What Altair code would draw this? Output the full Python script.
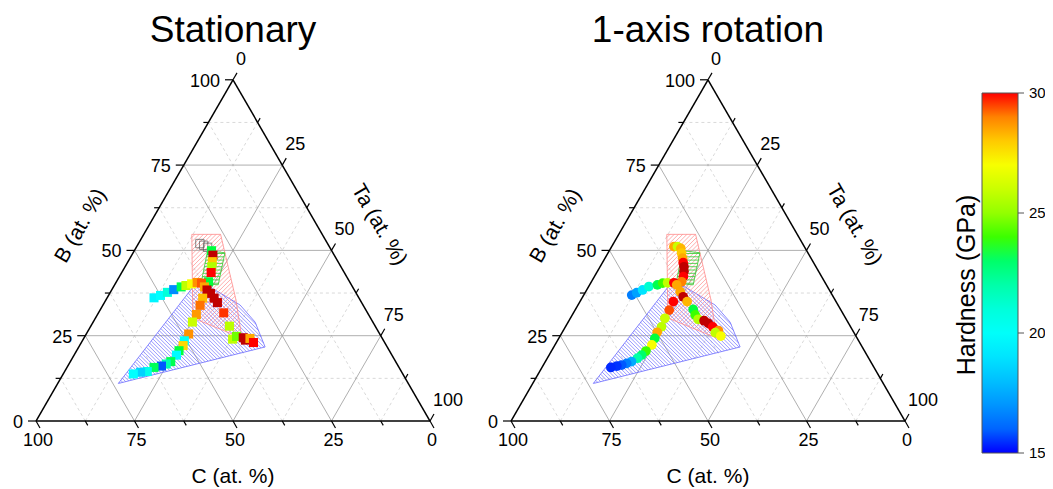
import math
import pandas as pd
import altair as alt

# ---------------- data (at.% compositions) ----------------
# Stationary sample (squares)
st_B = [49.9, 48.6, 46.7, 45.2, 43.5, 40.8,
        36.1, 36.8, 37.7, 38.5, 39.3, 39.7, 40.2, 40.6, 40.4, 39.3,
        38.4, 37.4, 36.0, 34.7, 31.7, 27.8, 24.0, 24.8, 24.4, 23.7, 24.2, 23.0,
        36.0, 33.9, 31.2, 29.0, 25.5, 23.5, 22.1, 20.6, 19.3, 17.4, 16.7, 16.1, 15.7, 14.5, 14.3, 13.8]
st_Ta = [19.6, 20.6, 21.4, 22.0, 22.7, 23.4,
         11.9, 13.2, 14.5, 15.7, 17.2, 18.2, 19.4, 20.6, 21.8, 23.1,
         24.2, 25.6, 27.2, 28.7, 31.8, 35.2, 37.9, 38.5, 40.4, 41.3, 42.2, 43.7,
         24.3, 24.7, 25.1, 25.2, 26.0, 25.9, 26.3, 26.0, 26.0, 25.5, 24.7, 23.8, 22.1, 21.0, 19.4, 17.8]
st_H = [23.5, 31.5, 28.0, 25.5, 30.0, 23.5,
        19.5, 19.8, 21.0, 16.8, 23.3, 25.8, 27.0, 28.8, 29.5, 28.5,
        31.5, 31.5, 31.5, 31.5, 29.8, 25.7, 25.8, 24.5, 31.5, 31.5, 28.5, 30.0,
        28.2, 29.2, 28.7, 26.0, 28.8, 20.0, 27.8, 23.5, 19.7, 23.3, 21.8, 15.8, 23.2, 20.5, 18.5, 19.8]
# Stationary points without hardness value (open squares)
st_open_B = [52.0, 51.5, 50.9]
st_open_Ta = [15.6, 16.8, 18.1]

# 1-axis rotation sample (circles)
rot_B = [51.1, 51.1, 50.6, 49.2, 47.7, 46.4, 45.2, 43.8, 42.3, 40.8,
         36.9, 37.6, 38.4, 39.4, 39.9, 40.4, 40.5, 40.5, 39.9,
         37.9, 36.4, 35.0, 32.7, 31.1, 29.8, 29.4, 28.6, 27.6, 26.5, 25.9, 24.9,
         35.0, 32.5, 30.1, 27.6, 26.0, 24.2, 22.3, 20.5, 19.3, 18.4, 17.4, 16.9, 16.4, 16.1, 15.7]
rot_Ta = [15.8, 16.7, 17.8, 18.7, 19.7, 20.5, 21.3, 22.0, 22.6, 22.9,
          12.2, 13.1, 14.2, 15.3, 17.2, 18.3, 19.5, 21.1, 22.1,
          24.0, 25.5, 27.2, 29.9, 31.2, 32.6, 34.3, 35.8, 37.4, 39.4, 38.9, 40.8,
          23.7, 23.9, 24.0, 24.4, 24.1, 24.4, 24.6, 24.0, 23.5, 22.9, 21.9, 20.9, 19.9, 18.8, 17.5]
rot_H = [28.5, 26.0, 28.3, 28.0, 28.5, 30.0, 31.5, 31.5, 30.0, 29.0,
         16.5, 17.3, 19.0, 21.2, 23.3, 24.0, 25.8, 30.0, 28.5,
         28.5, 31.5, 28.3, 23.5, 24.0, 25.5, 31.5, 31.5, 30.0, 28.8, 25.8, 27.0,
         30.0, 29.6, 26.0, 25.7, 28.5, 23.5, 27.0, 24.0, 23.0, 22.0, 17.5, 16.5, 15.8, 15.3, 15.2]

# shaded composition regions (vertices, B and Ta at.%)
red_B = [54.7, 54.7, 35.5, 24.3, 30.2]
red_Ta = [12.2, 19.5, 33.0, 40.1, 24.7]
green_B = [49.9, 49.3, 39.9, 40.4]
green_Ta = [18.6, 23.3, 26.3, 21.7]
blue_B = [11.0, 40.4, 39.3, 34.0, 29.0, 21.7]
blue_Ta = [15.4, 20.4, 24.5, 34.8, 41.1, 47.3]

panel_titles = ["Stationary", "1-axis rotation"]
tick_values = [0, 25, 50, 75, 100]
cbar_ticks = [15, 20, 25, 30]
cbar_min, cbar_max = 15, 30

# ---------------- geometry helpers ----------------
K = 3.94                 # px per at.% along a triangle side
S3 = math.sqrt(3) / 2
W, H = 1037, 481
OX, OY = 28, 413         # plot-px position of the first triangle's C-corner
PANEL_DX = [0.0, 475 / K]
XMIN, XMAX = -OX / K, (W - OX) / K
YMIN, YMAX = (OY - H) / K, OY / K
FONT = "Liberation Sans"

xs = alt.Scale(domain=[XMIN, XMAX], nice=False, zero=False)
ys = alt.Scale(domain=[YMIN, YMAX], nice=False, zero=False)


def xy(b, ta, dx=0.0):
    return ta + b / 2 + dx, b * S3


def px2u(px, py):
    """page pixel -> data units"""
    return (px - 8) / K + XMIN, YMAX - (py - 8) / K


def hatch(verts, angle, spacing):
    th = math.radians(angle)
    d = (math.cos(th), math.sin(th))
    n = (-math.sin(th), math.cos(th))
    s = [vx * n[0] + vy * n[1] for vx, vy in verts]
    segs = []
    c = min(s) + spacing / 2
    m = len(verts)
    while c < max(s):
        pts = []
        for i in range(m):
            j = (i + 1) % m
            si, sj = s[i], s[j]
            if (si - c) * (sj - c) < 0:
                t = (c - si) / (sj - si)
                px = verts[i][0] + t * (verts[j][0] - verts[i][0])
                py = verts[i][1] + t * (verts[j][1] - verts[i][1])
                pts.append((px * d[0] + py * d[1], px, py))
        pts.sort()
        for k in range(0, len(pts) - 1, 2):
            segs.append((pts[k][1], pts[k][2], pts[k + 1][1], pts[k + 1][2]))
        c += spacing
    return segs


def seg_rows(segs, **extra):
    return [dict(x=a, y=b, x2=c, y2=e, **extra) for a, b, c, e in segs]


# ---------------- build geometry tables ----------------
grid_rows, frame_rows, tick_rows = [], [], []
lab_left, lab_bottom, lab_right = [], [], []
hatch_rows, outline_rows = [], []
title_rows, btitle, tatitle, ctitle = [], [], [], []

regions = [
    (red_B, red_Ta, 45, 3.0 / K, "red"),
    (blue_B, blue_Ta, -45, 2.6 / K, "blue"),
    (green_B, green_Ta, 0, 3.3 / K, "green"),
]

for p, dx in enumerate(PANEL_DX):
    steps = [12.5 * i for i in range(1, 8)]
    for v in steps:
        kind = "major" if v % 25 == 0 else "minor"
        for a, b in [((v, 0), (v, 100 - v)), ((0, v), (100 - v, v)), ((0, 100 - v), (100 - v, 0))]:
            x1, y1 = xy(*a, dx)
            x2, y2 = xy(*b, dx)
            grid_rows.append(dict(x=x1, y=y1, x2=x2, y2=y2, kind=kind))
    corners = [xy(0, 0, dx), xy(100, 0, dx), xy(0, 100, dx)]
    for i in range(3):
        a, b = corners[i], corners[(i + 1) % 3]
        frame_rows.append(dict(x=a[0], y=a[1], x2=b[0], y2=b[1]))
    for i in range(9):
        v = 12.5 * i
        L = (8.0 if i % 2 == 0 else 5.0) / K
        px_, py_ = xy(v, 0, dx)                       # B axis (left edge)
        tick_rows.append(dict(x=px_, y=py_, x2=px_ - L, y2=py_))
        px_, py_ = xy(0, 100 - v, dx)                 # C axis (bottom)
        tick_rows.append(dict(x=px_, y=py_, x2=px_ + 0.5 * L, y2=py_ - S3 * L))
        px_, py_ = xy(100 - v, v, dx)                 # Ta axis (right edge)
        tick_rows.append(dict(x=px_, y=py_, x2=px_ + 0.5 * L, y2=py_ + S3 * L))
    for v in tick_values:
        px_, py_ = xy(v, 0, dx)
        lab_left.append(dict(x=px_ - 13 / K, y=py_ - 2 / K, t=str(v)))
        px_, py_ = xy(0, 100 - v, dx)
        lab_bottom.append(dict(x=px_ + 2 / K, y=py_ - 20 / K, t=str(v)))
        px_, py_ = xy(100 - v, v, dx)
        lab_right.append(dict(x=px_ + 3 / K, y=py_ + 20 / K, t=str(v)))
    title_rows.append(dict(x=50 + dx, y=(OY - 34) / K, t=panel_titles[p]))
    btitle.append(dict(x=45 / K + dx, y=195 / K, t="B (at. %)"))
    tatitle.append(dict(x=343 / K + dx, y=196 / K, t="Ta (at. %)"))
    ctitle.append(dict(x=197 / K + dx, y=-62 / K, t="C (at. %)"))
    for rb, rt, ang, sp, col in regions:
        verts = [xy(b, t, dx) for b, t in zip(rb, rt)]
        hatch_rows += seg_rows(hatch(verts, ang, sp), reg=col)
        for i in range(len(verts)):
            a, b = verts[i], verts[(i + 1) % len(verts)]
            outline_rows.append(dict(x=a[0], y=a[1], x2=b[0], y2=b[1], reg=col))

# points
st_df = pd.DataFrame({"B": st_B, "Ta": st_Ta, "h": st_H})
st_df["C"] = 100 - st_df.B - st_df.Ta
st_df["x"] = st_df.Ta + st_df.B / 2 + PANEL_DX[0]
st_df["y"] = st_df.B * S3
op_df = pd.DataFrame({"B": st_open_B, "Ta": st_open_Ta})
op_df["x"] = op_df.Ta + op_df.B / 2 + PANEL_DX[0]
op_df["y"] = op_df.B * S3
rot_df = pd.DataFrame({"B": rot_B, "Ta": rot_Ta, "h": rot_H})
rot_df["C"] = 100 - rot_df.B - rot_df.Ta
rot_df["x"] = rot_df.Ta + rot_df.B / 2 + PANEL_DX[1]
rot_df["y"] = rot_df.B * S3

# colour bar (legend gradient placed at page x 982..1018, y 93..453)
CB_X, CB_Y, CB_LEN, CB_W = 982, 93, 360, 36
cb_tick_rows, cb_lab_rows = [], []
for v in cbar_ticks:
    py = CB_Y + (cbar_max - v) / (cbar_max - cbar_min) * CB_LEN
    a = px2u(CB_X + CB_W, py)
    b = px2u(CB_X + CB_W + 6, py)
    cb_tick_rows.append(dict(x=a[0], y=a[1], x2=b[0], y2=b[1]))
    c = px2u(CB_X + CB_W + 11, py)
    cb_lab_rows.append(dict(x=c[0], y=c[1], t=str(v)))
cbt = px2u(967, 285)
cb_title = [dict(x=cbt[0], y=cbt[1], t="Hardness (GPa)")]

# ---------------- chart ----------------
def X(f="x"):
    return alt.X(f"{f}:Q", scale=xs, axis=None)


def Y(f="y"):
    return alt.Y(f"{f}:Q", scale=ys, axis=None)


def rules(rows, **mk):
    return alt.Chart(pd.DataFrame(rows)).mark_rule(**mk).encode(
        x=X(), y=Y(), x2="x2:Q", y2="y2:Q")


grid_df = pd.DataFrame(grid_rows)
grid_major = rules(grid_df[grid_df.kind == "major"].to_dict("records"), color="#9a9a9a", strokeWidth=0.8)
grid_minor = rules(grid_df[grid_df.kind == "minor"].to_dict("records"), color="#cfcfcf",
                   strokeWidth=0.8, strokeDash=[3, 3])

hatch_df = pd.DataFrame(hatch_rows)
out_df = pd.DataFrame(outline_rows)
hatch_layers = []
for reg, col, w in [("blue", "#6a6aff", 0.7), ("red", "#ff8a8a", 0.7), ("green", "#2ecc2e", 0.8)]:
    hatch_layers.append(rules(hatch_df[hatch_df.reg == reg].to_dict("records"), color=col, strokeWidth=w))
    hatch_layers.append(rules(out_df[out_df.reg == reg].to_dict("records"), color=col, strokeWidth=0.8))

frame = rules(frame_rows, color="black", strokeWidth=1.5)
ticks = rules(tick_rows, color="black", strokeWidth=1.2)

color_scale = alt.Scale(domain=[15, 19.8, 23.8, 27.2, 30],
                        range=["#0000ff", "#00ffff", "#00ff00", "#ffff00", "#ff0000"])
legend = alt.Legend(orient="none", legendX=CB_X - 8, legendY=CB_Y - 8, direction="vertical",
                    gradientLength=CB_LEN, gradientThickness=CB_W, gradientStrokeColor="#555555",
                    gradientStrokeWidth=1, labelOpacity=0, title="", padding=0, offset=0,
                    values=cbar_ticks)
color_enc = alt.condition("datum.h > 30", alt.value("#c00000"),
                          alt.Color("h:Q", scale=color_scale, legend=legend))

pts_st = alt.Chart(st_df).mark_square(size=82, opacity=1, filled=True).encode(
    x=X(), y=Y(), color=color_enc)
pts_open = alt.Chart(op_df).mark_square(size=70, filled=False, color="#555555", strokeWidth=1).encode(
    x=X(), y=Y())
pts_rot = alt.Chart(rot_df).mark_circle(size=95, opacity=1).encode(
    x=X(), y=Y(), color=color_enc)


def texts(rows, **mk):
    return alt.Chart(pd.DataFrame(rows)).mark_text(font=FONT, color="black", **mk).encode(
        x=X(), y=Y(), text="t:N")


t_left = texts(lab_left, align="right", baseline="middle", fontSize=18)
t_bottom = texts(lab_bottom, align="center", baseline="middle", fontSize=18)
t_right = texts(lab_right, align="left", baseline="middle", fontSize=18)
t_title = texts(title_rows, align="center", baseline="alphabetic", fontSize=37)
t_b = texts(btitle, align="center", baseline="middle", fontSize=21, angle=300)
t_ta = texts(tatitle, align="center", baseline="middle", fontSize=21, angle=60)
t_c = texts(ctitle, align="center", baseline="alphabetic", fontSize=21)
cb_ticks = rules(cb_tick_rows, color="#555555", strokeWidth=1)
cb_labels = texts(cb_lab_rows, align="left", baseline="middle", fontSize=15)
cb_t = texts(cb_title, align="center", baseline="middle", fontSize=25, angle=270)

chart = alt.layer(
    grid_minor, grid_major, *hatch_layers, frame, ticks,
    pts_open, pts_st, pts_rot,
    t_left, t_bottom, t_right, t_title, t_b, t_ta, t_c,
    cb_ticks, cb_labels, cb_t,
).properties(
    width=W, height=H, padding=0,
    autosize=alt.AutoSizeParams(type="none"),
).configure_view(strokeWidth=0)

chart.save("out.html", embed_options={"renderer": "svg", "actions": False})
